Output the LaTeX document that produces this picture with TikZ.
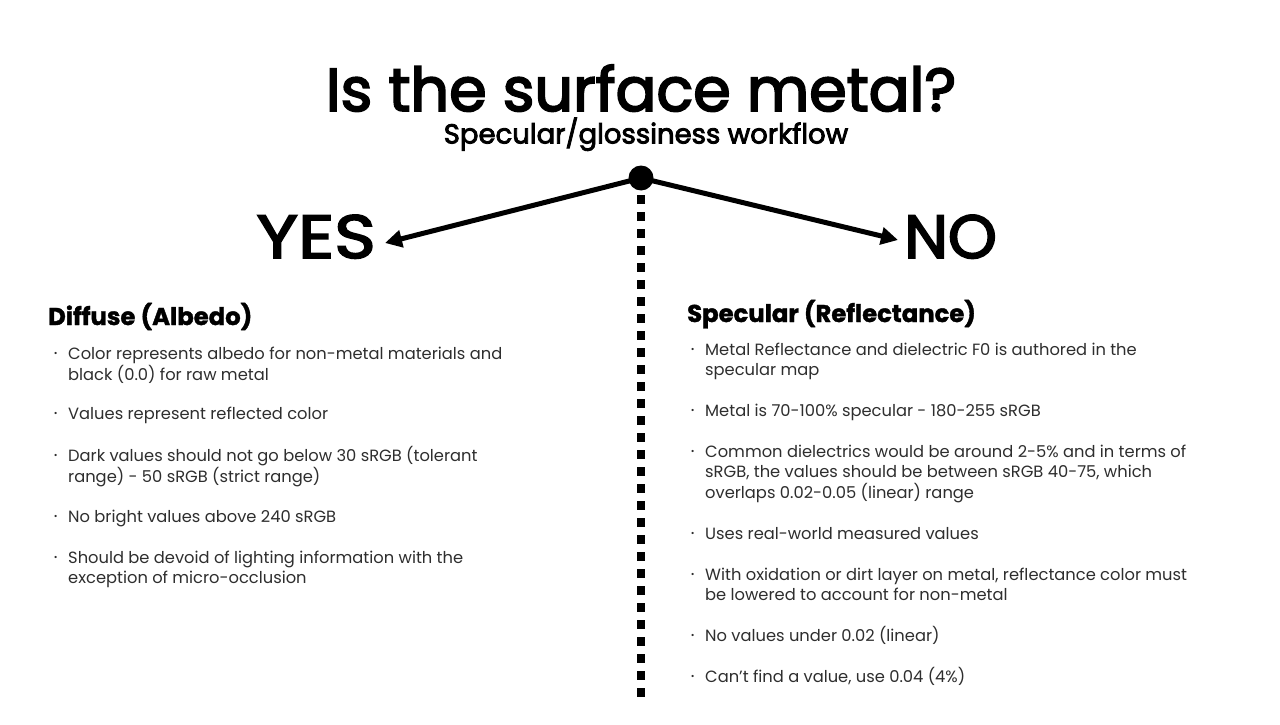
\documentclass[tikz,border=0pt]{standalone}
\usepackage{fontspec}
\setmainfont{Poppins}
\newfontfamily\pmed[FakeBold=3]{Poppins}
\newfontfamily\submed[FakeBold=3]{Poppins}
\newfontfamily\headfont[FakeBold=1.5]{Poppins}
\newfontfamily\yesfont[FakeBold=3,FakeStretch=1.16]{Poppins}
\newfontfamily\nofont[FakeBold=3,FakeStretch=1.02]{Poppins}
\usetikzlibrary{arrows.meta}
\newcommand{\bodyfont}{\fontsize{16.3}{20.5}\selectfont}
\newcommand{\bul}{\llap{{\fontsize{9}{9}\selectfont\raisebox{2.5pt}{•}}\hspace{10.5pt}}}
\newcommand{\lines}[1]{\begin{tabular}[t]{@{}l@{}}#1\end{tabular}}
\begin{document}
\begin{tikzpicture}[x=1pt,y=-1pt,
  title/.style={anchor=base,inner sep=0pt,font=\pmed\fontsize{60.5}{62}\selectfont},
  subtitle/.style={anchor=base,inner sep=0pt,font=\submed\fontsize{27.5}{30}\selectfont},
  answer/.style={inner sep=0pt,font=\fontsize{61}{63}\selectfont},
  heading/.style={anchor=base west,inner sep=0pt,font=\headfont\bfseries\fontsize{24.3}{28}\selectfont},
  item/.style={anchor=base west,inner sep=0pt,font=\bodyfont,text=black!82},
  branch/.style={line width=5pt,-{Triangle[length=17pt,width=17pt]}},
  divider/.style={line width=8pt,dash pattern=on 8.5pt off 8.5pt}
]
\useasboundingbox[fill=white] (0,0) rectangle (1280,725);

\node[title] (t) at (641,111) {Is the surface metal?};
\node[subtitle] (st) at (646,143.5) {Specular/glossiness workflow};

\node[circle,fill=black,inner sep=0pt,minimum size=25pt] (dot) at (641,178) {};
\node[answer,anchor=base east] (yes) at (376,258) {\yesfont YES};
\node[answer,anchor=base west] (no) at (904,258) {\nofont NO};
\coordinate (yt) at (385,243);
\coordinate (nt) at (898,240);
\coordinate (dtop) at (641,195);
\coordinate (dbot) at (641,700);

\draw[branch] (dot.center) -- (yt);
\draw[branch] (dot.center) -- (nt);
\draw[divider] (dtop) -- (dbot);

\node[heading] (hl) at (48,325) {Diffuse (Albedo)};
\node[heading] (hr) at (687,322) {Specular (Reflectance)};

\node[item] (l1) at (68,359) {\lines{\bul Color represents albedo for non-metal materials and\\black (0.0) for raw metal}};
\node[item] (l2) at (68,419) {\lines{\bul Values represent reflected color}};
\node[item] (l3) at (68,461) {\lines{\bul Dark values should not go below 30 sRGB (tolerant\\range) - 50 sRGB (strict range)}};
\node[item] (l4) at (68,522) {\lines{\bul No bright values above 240 sRGB}};
\node[item] (l5) at (68,563) {\lines{\bul Should be devoid of lighting information with the\\exception of micro-occlusion}};

\node[item] (r1) at (705,355) {\lines{\bul Metal Reflectance and dielectric F0 is authored in the\\specular map}};
\node[item] (r2) at (705,416) {\lines{\bul Metal is 70-100\% specular - 180-255 sRGB}};
\node[item] (r3) at (705,457) {\lines{\bul Common dielectrics would be around 2-5\% and in terms of\\sRGB, the values should be between sRGB 40-75, which\\overlaps 0.02-0.05 (linear) range}};
\node[item] (r4) at (705,539) {\lines{\bul Uses real-world measured values}};
\node[item] (r5) at (705,580) {\lines{\bul With oxidation or dirt layer on metal, reflectance color must\\be lowered to account for non-metal}};
\node[item] (r6) at (705,641) {\lines{\bul No values under 0.02 (linear)}};
\node[item] (r7) at (705,682) {\lines{\bul Can’t find a value, use 0.04 (4\%)}};
\end{tikzpicture}
\end{document}
